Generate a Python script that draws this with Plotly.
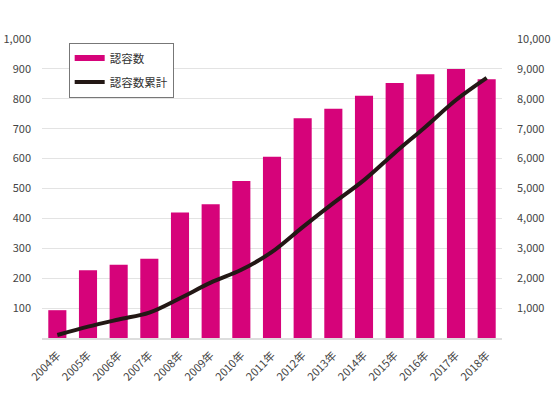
import plotly.graph_objects as go

years = ["2004年", "2005年", "2006年", "2007年", "2008年", "2009年", "2010年", "2011年",
         "2012年", "2013年", "2014年", "2015年", "2016年", "2017年", "2018年"]
recognized = [93, 227, 245, 265, 420, 447, 525, 606, 735, 767, 810, 853, 882, 900, 865]
cumulative = [100, 380, 620, 850, 1330, 1850, 2280, 2880, 3710, 4510, 5280, 6190, 7060, 7960, 8700]

left_ticks = [100, 200, 300, 400, 500, 600, 700, 800, 900, 1000]
right_ticks = [1000, 2000, 3000, 4000, 5000, 6000, 7000, 8000, 9000, 10000]

BAR = "#d6037a"
LINE = "#231815"
FONT = "Noto Sans CJK JP"

fig = go.Figure()
fig.add_trace(go.Bar(x=years, y=recognized, name="認容数", marker=dict(color=BAR, line=dict(width=0)),
                     yaxis="y", showlegend=False))
# legend swatch for the bars (flat rectangle like the reference)
fig.add_trace(go.Scatter(x=[years[0]], y=[None], name="認容数", mode="lines",
                         line=dict(color=BAR, width=6), legendgroup="a", yaxis="y"))
fig.add_trace(go.Scatter(x=years, y=cumulative, name="認容数累計", mode="lines",
                         line=dict(color=LINE, width=4, shape="spline"), yaxis="y2",
                         legendgroup="b"))

fig.update_layout(
    width=554, height=401,
    margin=dict(l=42, r=52, t=39, b=63, autoexpand=False),
    plot_bgcolor="white", paper_bgcolor="white",
    font=dict(family=FONT, size=11, color="#444"),
    bargap=0.41,
    showlegend=True,
    legend=dict(x=0.058, y=0.988, xanchor="left", yanchor="top",
                bgcolor="white", bordercolor="#777", borderwidth=1,
                font=dict(family=FONT, size=11.5, color="#333"),
                tracegroupgap=5, itemwidth=30),
    xaxis=dict(showgrid=False, showline=True, linecolor="#dddddd", linewidth=1.5,
               ticks="", tickangle=-45, tickfont=dict(size=11, color="#444"), automargin=False,
               ticklabelstandoff=5),
    yaxis=dict(range=[0, 1000], tickvals=left_ticks, ticktext=[f"{v:,}" for v in left_ticks],
               showgrid=True, gridcolor="#e3e3e3", gridwidth=1, zeroline=False, automargin=False,
               ticks="", ticklabelstandoff=10, tickfont=dict(size=11, color="#444")),
    yaxis2=dict(range=[0, 10000], overlaying="y", side="right", automargin=False,
                tickvals=right_ticks, ticktext=[f"{v:,}" for v in right_ticks],
                showgrid=False, zeroline=False, ticks="", ticklabelstandoff=14,
                tickfont=dict(size=11, color="#444")),
)

fig.write_html("out.html", config={"displayModeBar": False},
               post_script="document.body.style.margin='0';")
